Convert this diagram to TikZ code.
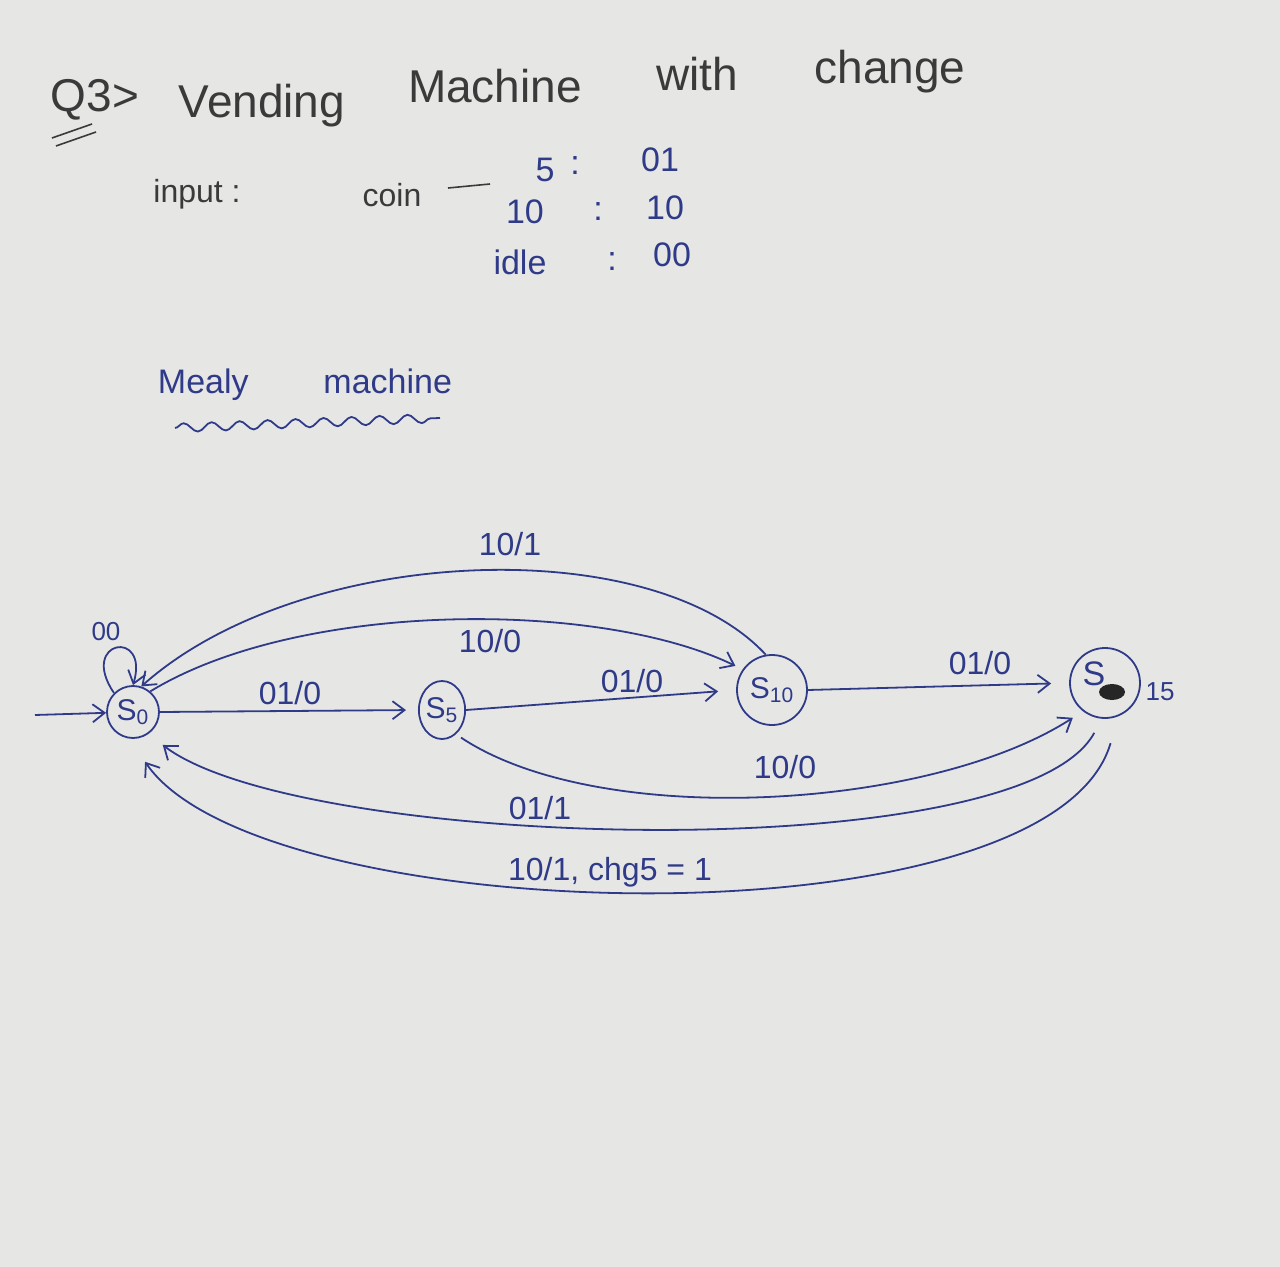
\documentclass[tikz,border=0pt]{standalone}
\usepackage{fontspec}
\setmainfont{Liberation Sans}
\usetikzlibrary{arrows.meta,decorations.pathmorphing,shapes.geometric}
\definecolor{paper}{HTML}{E6E7E5}
\definecolor{ink}{HTML}{2F3A88}
\definecolor{pencil}{HTML}{3A3A3A}
\tikzset{
  pen/.style={draw=ink, line width=0.9pt},
  tip/.style={-{Straight Barb[length=6pt,width=9pt]}},
  state/.style={circle, draw=ink, line width=0.9pt, text=ink, inner sep=0pt,
                font=\fontsize{15}{15}\selectfont},
  lbl/.style={text=ink, inner sep=1pt, font=\fontsize{16}{16}\selectfont},
  small/.style={text=ink, inner sep=1pt, font=\fontsize{13}{13}\selectfont},
  heading/.style={text=pencil, inner sep=0pt, font=\fontsize{23}{23}\selectfont},
  note/.style={text=pencil, inner sep=0pt, font=\fontsize{16}{16}\selectfont},
  code/.style={text=ink, inner sep=0pt, font=\fontsize{17}{17}\selectfont},
}
\begin{document}
\begin{tikzpicture}[x=0.5pt,y=-0.5pt]
\fill[paper] (0,0) rectangle (1280,1267);
\useasboundingbox (0,0) rectangle (1280,1267);

% heading
\node[heading] (q3) at (95,100) {Q3>};
\draw[pencil, line width=0.8pt] (52,138) -- (92,124) (56,146) -- (96,132);
\node[heading] (hVending) at (262,106) {Vending};
\node[heading] (hMachine) at (495,86) {Machine};
\node[heading] (hWith) at (697,74) {with};
\node[heading] (hChange) at (890,72) {change};

% input encoding
\node[note] (input) at (197,194) {input :};
\node[note] (coin) at (392,195) {coin};
\draw[pencil, line width=0.8pt] (448,188) -- (490,184);
\node[code] (c5) at (545,170) {5};
\node[code] (c5c) at (575,166) {:};
\node[code] (c5v) at (660,160) {01};
\node[code] (c10) at (525,212) {10};
\node[code] (c10c) at (598,212) {:};
\node[code] (c10v) at (665,208) {10};
\node[code] (cidle) at (520,262) {idle};
\node[code] (cidlec) at (612,262) {:};
\node[code] (cidlev) at (672,255) {00};

% machine type
\node[code] (mealy) at (305,385) {Mealy\hspace{2.2em}machine};
\draw[pen, decorate, decoration={snake, amplitude=2.2pt, segment length=14pt}]
  (175,428) -- (440,418);

% states
\node[state, minimum size=26pt] (s0) at (133,712) {S\textsubscript{0}};
\node[state, ellipse, minimum width=22pt, minimum height=29pt] (s5) at (442,710) {S\textsubscript{5}};
\node[state, minimum size=35pt] (s10) at (772,690) {S\textsubscript{10}};
\node[state, minimum size=35pt] (s15) at (1105,683) {};
\node[lbl, font=\fontsize{17}{17}\selectfont] (s15S) at (1094,674) {S};
\fill[black!85] (1112,692) ellipse (13 and 8);
\node[small] (s15n) at (1160,692) {15};

% start arrow
\coordinate (start) at (35,715);
\draw[pen, tip] (start) -- (s0);

% idle self-loop
\draw[pen, tip] (s0.135) .. controls (78,640) and (150,628) .. (s0.90);
\node[small] (l00) at (106,632) {00};

% 5-coin transitions
\draw[pen, tip, shorten >=6pt] (s0.east) -- (s5.west);
\node[lbl] (l1) at (290,693) {01/0};
\draw[pen, tip, shorten >=9pt] (s5.east) -- (s10.west);
\node[lbl] (l2) at (632,681) {01/0};
\draw[pen, tip, shorten >=9pt] (s10.east) -- (s15.west);
\node[lbl] (l3) at (980,663) {01/0};

% 10-coin transitions
\draw[pen, tip, shorten >=4pt] (s0.50) .. controls (300,600) and (600,600) .. (s10.145);
\node[lbl] (l4) at (490,641) {10/0};
\draw[pen, tip] (s10.100) .. controls (650,530) and (300,545) .. (s0.72);
\node[lbl] (l5) at (510,544) {10/1};
\draw[pen, tip, shorten <=3pt, shorten >=6pt] (s5.300) .. controls (600,830) and (930,810) .. (s15.232);
\node[lbl] (l6) at (785,767) {10/0};

% returns to S0
\draw[pen, tip, shorten <=8pt, shorten >=9pt] (s15.265) .. controls (1020,870) and (300,850) .. (s0.305);
\node[lbl] (l7) at (540,808) {01/1};
\draw[pen, tip, shorten <=14pt, shorten >=14pt] (s15.292) .. controls (1050,950) and (260,930) .. (s0.262);
\node[lbl] (l8) at (610,872) {10/1, chg5 = 1};
\end{tikzpicture}
\end{document}
